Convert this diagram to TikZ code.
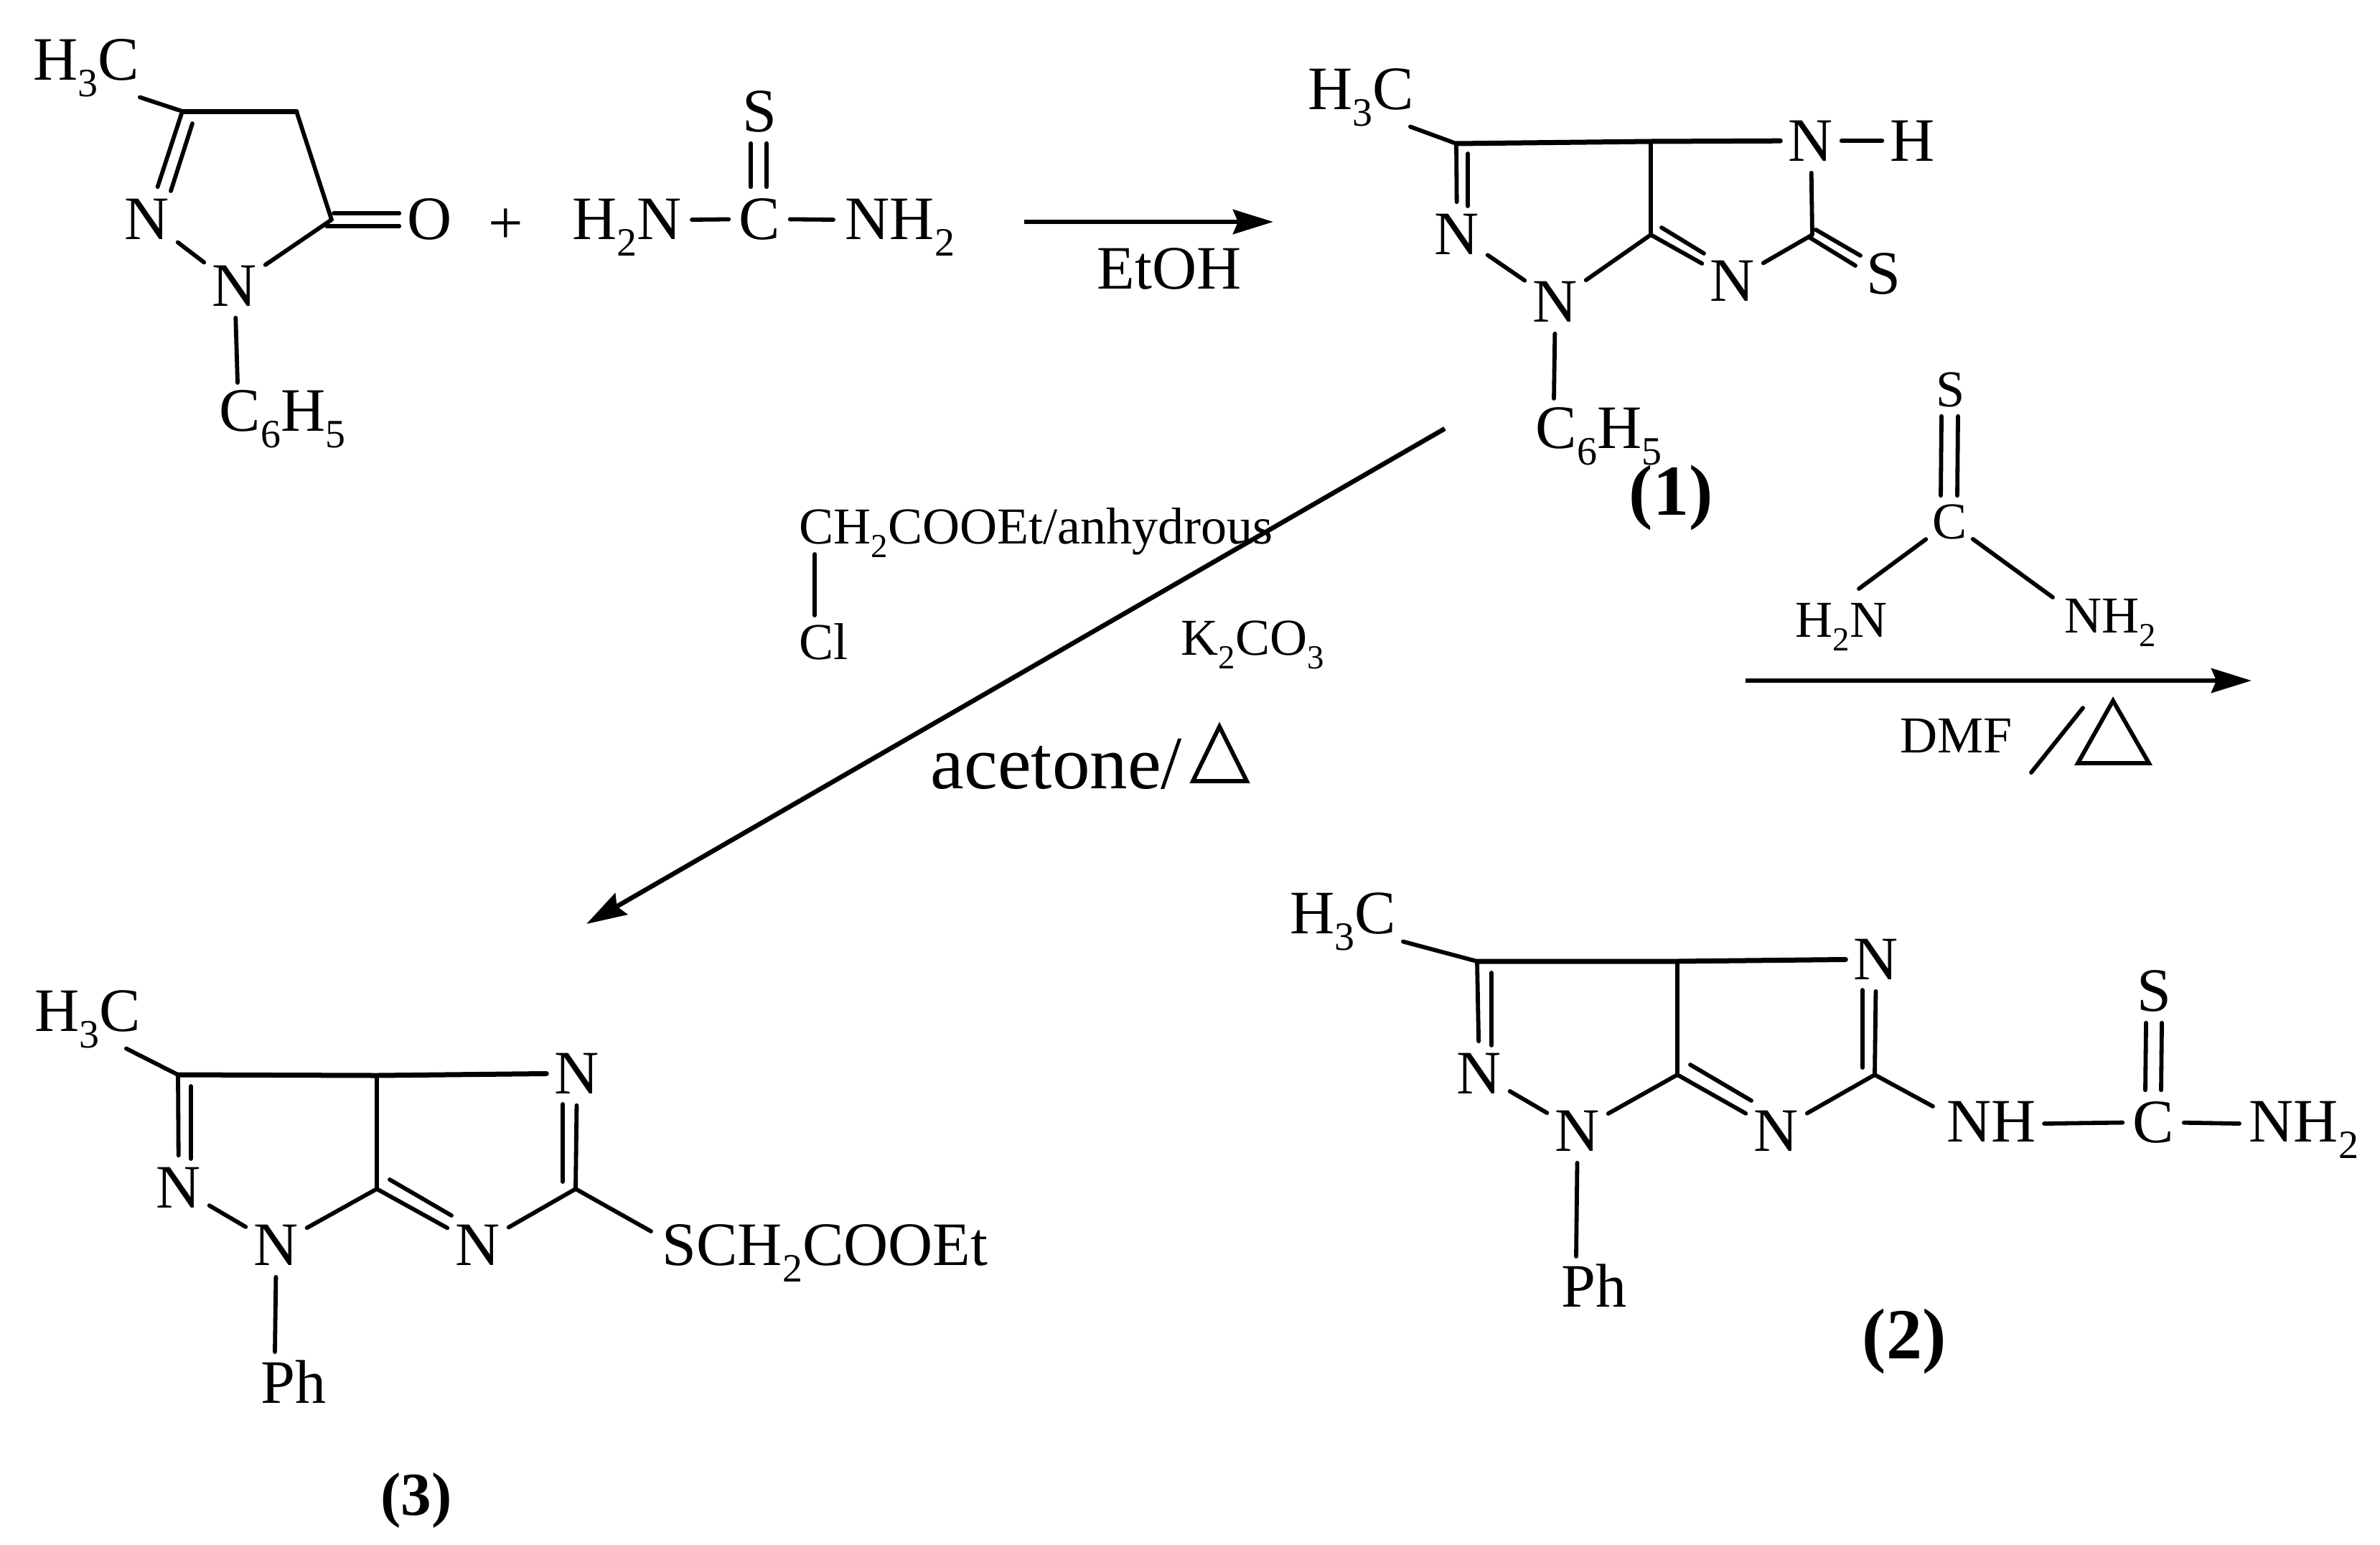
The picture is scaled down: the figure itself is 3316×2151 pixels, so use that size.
\documentclass[tikz,border=0pt]{standalone}
\usepackage{fontspec}
\setmainfont{Liberation Serif}
\usetikzlibrary{arrows.meta}
\newcommand\chemsub[1]{\raisebox{-0.27em}{\scalebox{0.65}{#1}}}
\newcommand\fbig{\fontsize{24.47pt}{28pt}\selectfont}
\newcommand\fsmall{\fontsize{20.5pt}{24pt}\selectfont}
\newcommand\fhuge{\fontsize{29.9pt}{34pt}\selectfont}
\tikzset{
  bond/.style={line width=0.058cm,line cap=round,line join=round},
  topbond/.style={line width=0.07cm,line cap=round,line join=round},
  atom/.style={rectangle,inner sep=0pt,minimum width=0.84cm,minimum height=0.88cm,font=\fbig},
  smallatom/.style={rectangle,inner sep=0pt,minimum width=0.64cm,minimum height=0.72cm,font=\fsmall},
  lbl/.style={anchor=base west,inner sep=0pt,font=\fbig},
  smalllbl/.style={anchor=base west,inner sep=0pt,font=\fsmall},
  cmpd/.style={anchor=base,inner sep=0pt},
  rxn/.style={line width=0.065cm,-{Stealth[length=0.56cm,width=0.34cm,inset=0.07cm]}},
  heat/.style={line width=0.058cm,line join=miter}
}
\begin{document}
\begin{tikzpicture}[x=0.01cm,y=-0.01cm]
\useasboundingbox (0,0) rectangle (3316,2151);

% ---- starting pyrazolone
\node[lbl] (ah) at (46,111) {H\chemsub{3}C};
\node[atom] (an1) at (205,305) {N};
\node[atom] (an2) at (327,398) {N};
\node[atom] (ao) at (599,305) {O};
\node[lbl] (aph) at (305,600) {C\chemsub{6}H\chemsub{5}};
\coordinate (ac3) at (254,155);
\coordinate (ac4) at (413,155);
\coordinate (ac5) at (462,306);
\coordinate (ai1) at (268,172);
\coordinate (ai2) at (238,266);
\coordinate (ao1) at (465,297);
\coordinate (ao2) at (455,315);
\draw[bond] (ah.south east) -- (ac3);
\draw[topbond] (ac3) -- (ac4);
\draw[bond] (ac4) -- (ac5) -- (an2);
\draw[bond] (ac3) -- (an1);
\draw[bond] (ai1) -- (ai2);
\draw[bond] (an1) -- (an2);
\draw[bond] (ao1) -- ([shift={(0,-8)}]ao.west);
\draw[bond] (ao2) -- ([shift={(0,10)}]ao.west);
\draw[bond] (an2) -- ([shift={(26,-67)}]aph.base west);

\node[atom] (plus) at (705,315) {+};

% ---- thiourea
\node[lbl] (th2n) at (797,333) {H\chemsub{2}N};
\node[atom] (tc) at (1058,305) {C};
\node[lbl] (tnh2) at (1177,333) {NH\chemsub{2}};
\node[atom] (ts) at (1058,155) {S};
\draw[bond] ([shift={(167,-27)}]th2n.base west) -- (tc);
\draw[bond] (tc) -- ([shift={(-16,-27)}]tnh2.base west);
\draw[bond] ([shift={(-12,0)}]ts.south) -- ([shift={(-12,0)}]tc.north);
\draw[bond] ([shift={(10,0)}]ts.south) -- ([shift={(10,0)}]tc.north);

% ---- arrow 1
\coordinate (r1a) at (1427,309);
\coordinate (r1b) at (1774,309);
\draw[rxn] (r1a) -- (r1b);
\node[lbl] (etoh) at (1528,402) {EtOH};

% ---- compound 1
\node[lbl] (bh) at (1822,152) {H\chemsub{3}C};
\node[atom] (bn1) at (2030,326) {N};
\node[atom] (bn2) at (2167,420) {N};
\node[atom] (bn3) at (2414,391) {N};
\node[atom] (bn4) at (2523,196) {N};
\node[atom] (bhh) at (2665,196) {H};
\node[atom] (bs) at (2624,381) {S};
\node[lbl] (bph) at (2139,624) {C\chemsub{6}H\chemsub{5}};
\node[cmpd,font=\fontsize{28.45pt}{32pt}\selectfont\bfseries] (bl) at (2328,717) {(1)};
\coordinate (bc3) at (2029,200);
\coordinate (bc3a) at (2300,197);
\coordinate (bc6a) at (2300,327);
\coordinate (bc5) at (2525,327);
\coordinate (bi1) at (2045,214);
\coordinate (bi2) at (2045,287);
\coordinate (bi3) at (2315,317);
\coordinate (bi4) at (2374,353);
\coordinate (bs1) at (2530,320);
\coordinate (bs2) at (2592,356);
\coordinate (bs3) at (2520,330);
\coordinate (bs4) at (2585,370);
\draw[bond] ([shift={(-6,0)}]bh.south east) -- (bc3);
\draw[topbond] (bc3) -- (bc3a) -- (bn4);
\draw[bond] (bc3a) -- (bc6a);
\draw[bond] (bc3) -- (bn1);
\draw[bond] (bi1) -- (bi2);
\draw[bond] (bn1) -- (bn2);
\draw[bond] (bn2) -- (bc6a) -- (bn3);
\draw[bond] (bi3) -- (bi4);
\draw[bond] (bn3) -- (bc5) -- (bn4);
\draw[bond] (bn4) -- (bhh);
\draw[bond] (bs1) -- (bs2);
\draw[bond] (bs3) -- (bs4);
\draw[bond] (bn2) -- ([shift={(26,-69)}]bph.base west);

% ---- reagent 2 and arrow
\node[smallatom] (rs) at (2717,543) {S};
\node[smallatom] (rc) at (2716,727) {C};
\node[smalllbl] (rh2n) at (2501,887) {H\chemsub{2}N};
\node[smalllbl] (rnh2) at (2876,881) {NH\chemsub{2}};
\draw[bond] ([shift={(-12,0)}]rs.south) -- ([shift={(-12,0)}]rc.north);
\draw[bond] ([shift={(11,0)}]rs.south) -- ([shift={(11,0)}]rc.north);
\draw[bond] (rc) -- ([shift={(89,-67)}]rh2n.base west);
\draw[bond] (rc) -- ([shift={(-16,-49)}]rnh2.base west);
\coordinate (r2a) at (2432,948);
\coordinate (r2b) at (3137,948);
\draw[rxn] (r2a) -- (r2b);
\node[smalllbl] (dmf) at (2647,1048) {DMF};
\coordinate (sl1) at (2902,986);
\coordinate (sl2) at (2830,1076);
\draw[bond] (sl1) -- (sl2);
\draw[heat] (2944,976) -- (2895,1063) -- (2994,1063) -- cycle;

% ---- reagent 3 and arrow
\coordinate (r3a) at (2013,597);
\coordinate (r3b) at (817,1287);
\draw[rxn] (r3a) -- (r3b);
\node[smalllbl] (cl1) at (1113,757) {CH\chemsub{2}COOEt/anhydrous};
\node[smalllbl] (cl2) at (1113,918) {Cl};
\draw[bond] ([shift={(22,15)}]cl1.base west) -- ([shift={(22,-61)}]cl2.base west);
\node[smalllbl] (k2) at (1645,912) {K\chemsub{2}CO\chemsub{3}};
\node[lbl,font=\fhuge] (ace) at (1296,1098) {acetone/};
\draw[heat] (1699,1012) -- (1662,1088) -- (1737,1088) -- cycle;

% ---- compound 3
\node[lbl] (ch) at (48,1436) {H\chemsub{3}C};
\node[atom] (cn1) at (249,1654) {N};
\node[atom] (cn2) at (385,1734) {N};
\node[atom] (cn3) at (666,1734) {N};
\node[atom] (cn4) at (804,1495) {N};
\node[lbl] (cs) at (922,1762) {SCH\chemsub{2}COOEt};
\node[lbl] (cph) at (363,1954) {Ph};
\node[cmpd,font=\fontsize{24.2pt}{28pt}\selectfont\bfseries] (cl) at (580,2110) {(3)};
\coordinate (cc3) at (248,1497);
\coordinate (cc3a) at (525,1498);
\coordinate (cc6a) at (525,1656);
\coordinate (cc5) at (802,1656);
\coordinate (ci1) at (266,1513);
\coordinate (ci2) at (266,1614);
\coordinate (ci3) at (543,1643);
\coordinate (ci4) at (629,1693);
\coordinate (ci5) at (784,1646);
\coordinate (ci6) at (784,1538);
\draw[bond] ([shift={(-21,0)}]ch.south east) -- (cc3);
\draw[topbond] (cc3) -- (cc3a) -- (cn4);
\draw[bond] (cc3a) -- (cc6a);
\draw[bond] (cc3) -- (cn1);
\draw[bond] (ci1) -- (ci2);
\draw[bond] (cn1) -- (cn2);
\draw[bond] (cn2) -- (cc6a) -- (cn3);
\draw[bond] (ci3) -- (ci4);
\draw[bond] (cn3) -- (cc5) -- (cn4);
\draw[bond] (ci5) -- (ci6);
\draw[bond] (cc5) -- ([shift={(-15,-47)}]cs.base west);
\draw[bond] (cn2) -- ([shift={(20,-71)}]cph.base west);

% ---- compound 2
\node[lbl] (dh) at (1797,1300) {H\chemsub{3}C};
\node[atom] (dn1) at (2061,1495) {N};
\node[atom] (dn2) at (2198,1575) {N};
\node[atom] (dn3) at (2475,1575) {N};
\node[atom] (dn4) at (2614,1336) {N};
\node[lbl] (dnh) at (2712,1590) {NH};
\node[atom] (dc) at (3000,1563) {C};
\node[lbl] (dnh2) at (3133,1590) {NH\chemsub{2}};
\node[atom] (ds) at (3001,1380) {S};
\node[lbl] (dph) at (2175,1820) {Ph};
\node[cmpd,font=\fontsize{28.45pt}{32pt}\selectfont\bfseries] (dl) at (2653,1892) {(2)};
\coordinate (dc3) at (2058,1339);
\coordinate (dc3a) at (2337,1339);
\coordinate (dc6a) at (2337,1497);
\coordinate (dc5) at (2612,1497);
\coordinate (di1) at (2078,1355);
\coordinate (di2) at (2078,1456);
\coordinate (di3) at (2355,1483);
\coordinate (di4) at (2440,1533);
\coordinate (di5) at (2595,1487);
\coordinate (di6) at (2595,1379);
\draw[bond] ([shift={(9,-13)}]dh.south east) -- (dc3);
\draw[topbond] (dc3) -- (dc3a) -- (dn4);
\draw[bond] (dc3a) -- (dc6a);
\draw[bond] (dc3) -- (dn1);
\draw[bond] (di1) -- (di2);
\draw[bond] (dn1) -- (dn2);
\draw[bond] (dn2) -- (dc6a) -- (dn3);
\draw[bond] (di3) -- (di4);
\draw[bond] (dn3) -- (dc5) -- (dn4);
\draw[bond] (di5) -- (di6);
\draw[bond] (dc5) -- ([shift={(-19,-49)}]dnh.base west);
\draw[bond] ([shift={(136,-25)}]dnh.base west) -- (dc);
\draw[bond] (dc) -- ([shift={(-13,-25)}]dnh2.base west);
\draw[bond] ([shift={(-11,0)}]ds.south) -- ([shift={(-11,0)}]dc.north);
\draw[bond] ([shift={(11,0)}]ds.south) -- ([shift={(11,0)}]dc.north);
\draw[bond] (dn2) -- ([shift={(21,-70)}]dph.base west);
\end{tikzpicture}
\end{document}
